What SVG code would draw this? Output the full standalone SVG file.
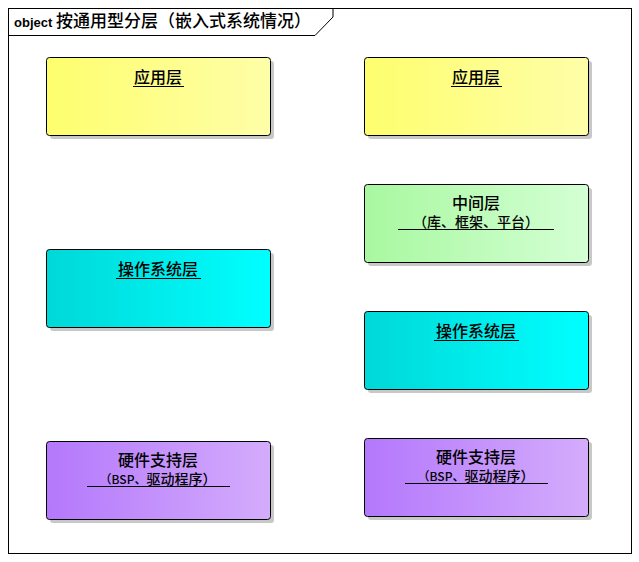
<svg xmlns="http://www.w3.org/2000/svg" width="639" height="562" viewBox="0 0 639 562">
<style>
.n{stroke:#000;stroke-width:1}
.sh{fill:#c8c8c8}
.t{font-family:"Noto Sans CJK SC","Liberation Sans",sans-serif;font-size:16px;font-weight:500;text-anchor:middle;fill:#000}
.t2{font-family:"Noto Sans CJK SC","Liberation Sans",sans-serif;font-size:14px;font-weight:500;text-anchor:middle;fill:#000}
.u{stroke:#000;stroke-width:1}
</style>
<defs>
<linearGradient id="gy"><stop offset="0" stop-color="#fefe6e"/><stop offset="1" stop-color="#fefea8"/></linearGradient>
<linearGradient id="gc"><stop offset="0" stop-color="#00d8d8"/><stop offset="1" stop-color="#00ffff"/></linearGradient>
<linearGradient id="gg"><stop offset="0" stop-color="#a8f8a0"/><stop offset="1" stop-color="#d4ffd4"/></linearGradient>
<linearGradient id="gp"><stop offset="0" stop-color="#b478fc"/><stop offset="1" stop-color="#d4acfc"/></linearGradient>
</defs>
<rect x="0" y="0" width="639" height="562" fill="#fff"/>
<g id="frame">
<rect x="8.5" y="8.5" width="623" height="545" fill="#fff" stroke="#000"/>
<path d="M8.5,35.5 H315 L333,17 V8.5" fill="none" stroke="#000"/>
<text x="14" y="27" font-family="'Liberation Sans','Noto Sans CJK SC',sans-serif" font-size="13" font-weight="bold">object <tspan font-family="'Noto Sans CJK SC',sans-serif" font-size="17" font-weight="500">按通用型分层（嵌入式系统情况）</tspan></text>
</g>
<g id="L1"><rect class="sh" x="50" y="61" width="224" height="78" rx="3"/><rect class="n" x="46.5" y="57.5" width="224" height="78" rx="3" fill="url(#gy)"/><text class="t" x="158" y="83">应用层</text><line class="u" x1="133" y1="86.5" x2="184" y2="86.5"/></g>
<g id="L2"><rect class="sh" x="50" y="253" width="224" height="78" rx="3"/><rect class="n" x="46.5" y="249.5" width="224" height="78" rx="3" fill="url(#gc)"/><text class="t" x="158" y="275">操作系统层</text><line class="u" x1="116" y1="278.5" x2="201" y2="278.5"/></g>
<g id="L3"><rect class="sh" x="50" y="445" width="224" height="78" rx="3"/><rect class="n" x="46.5" y="441.5" width="224" height="78" rx="3" fill="url(#gp)"/><text class="t" x="158" y="466">硬件支持层</text><text class="t2" x="158" y="484"><tspan font-size="12">（BSP、</tspan>驱动程序）</text><line class="u" x1="87" y1="486.5" x2="230" y2="486.5"/></g>
<g id="R1"><rect class="sh" x="368" y="61" width="224" height="78" rx="3"/><rect class="n" x="364.5" y="57.5" width="224" height="78" rx="3" fill="url(#gy)"/><text class="t" x="476" y="83">应用层</text><line class="u" x1="451" y1="86.5" x2="502" y2="86.5"/></g>
<g id="R2"><rect class="sh" x="368" y="188" width="224" height="78" rx="3"/><rect class="n" x="364.5" y="184.5" width="224" height="78" rx="3" fill="url(#gg)"/><text class="t" x="476" y="209">中间层</text><text class="t2" x="476" y="227">（库、框架、平台）</text><line class="u" x1="398" y1="229.5" x2="554" y2="229.5"/></g>
<g id="R3"><rect class="sh" x="368" y="315" width="224" height="78" rx="3"/><rect class="n" x="364.5" y="311.5" width="224" height="78" rx="3" fill="url(#gc)"/><text class="t" x="476" y="337">操作系统层</text><line class="u" x1="434" y1="340.5" x2="519" y2="340.5"/></g>
<g id="R4"><rect class="sh" x="368" y="442" width="224" height="78" rx="3"/><rect class="n" x="364.5" y="438.5" width="224" height="78" rx="3" fill="url(#gp)"/><text class="t" x="476" y="463">硬件支持层</text><text class="t2" x="476" y="481"><tspan font-size="12">（BSP、</tspan>驱动程序）</text><line class="u" x1="405" y1="483.5" x2="548" y2="483.5"/></g>
<g id="connectors"/>
</svg>
